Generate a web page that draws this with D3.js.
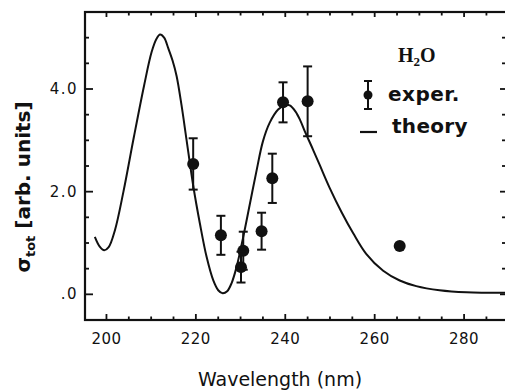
<!DOCTYPE html>
<html>
<head>
<meta charset="utf-8">
<script src="https://cdn.jsdelivr.net/npm/d3@7"></script>
<style>
  html, body { margin: 0; padding: 0; background: #fff; }
  svg { display: block; }
  text { fill: #111; }
</style>
</head>
<body>
<svg id="chart" width="505" height="392"></svg>
<script>
// Measured total cross section of H2O vs wavelength
const expWavelength = [219.4, 225.6, 230.6, 230.1, 234.7, 237.1, 239.5, 245.0, 265.6];
const expSigma      = [2.54, 1.15, 0.85, 0.53, 1.23, 2.26, 3.74, 3.76, 0.94];
const expError      = [0.50, 0.38, 0.37, 0.30, 0.36, 0.48, 0.39, 0.68, 0];

// Calculated curve
const theoryWavelength = [197.4, 198.5, 199.5, 200.5, 201.9, 203.8, 206.1, 208.4, 210.1, 211.2,
  212.0, 212.9, 213.8, 214.8, 215.7, 216.8, 217.9, 219.4, 220.9, 222.4, 223.9, 225.0, 226.0,
  227.0, 228.0, 229.1, 230.6, 232.1, 233.6, 235.0, 236.5, 238.4, 240.0, 241.0, 242.3, 243.4,
  244.4, 246.0, 247.7, 249.9, 252.6, 255.2, 258.1, 261.9, 265.6, 269.3, 274.5, 280.5, 289.6];
const theorySigma = [1.12, 0.93, 0.86, 0.92, 1.25, 2.00, 3.05, 4.06, 4.72, 4.98,
  5.06, 5.00, 4.80, 4.55, 4.25, 3.68, 3.02, 2.12, 1.38, 0.73, 0.27, 0.08, 0.02,
  0.06, 0.22, 0.53, 1.12, 1.77, 2.42, 2.98, 3.34, 3.60, 3.69, 3.68, 3.56, 3.38,
  3.17, 2.86, 2.52, 2.08, 1.60, 1.19, 0.79, 0.46, 0.27, 0.16, 0.08, 0.04, 0.03];

const xMajorTicks = [200, 220, 240, 260, 280];
const yMajorTicks = [0, 2, 4];
const yTickLabels = [".0", "2.0", "4.0"];

const svg = d3.select("#chart");
const plotLeft = 85, plotRight = 507, plotTop = 12, plotBottom = 320;

const x = d3.scaleLinear().domain([195.2, 289.6]).range([plotLeft, plotRight]);
const y = d3.scaleLinear().domain([-0.5, 5.5]).range([plotBottom, plotTop]);

const sansBold = "'DejaVu Sans', sans-serif";

// frame
svg.append("rect")
  .attr("x", plotLeft).attr("y", plotTop)
  .attr("width", plotRight - plotLeft).attr("height", plotBottom - plotTop)
  .attr("fill", "none").attr("stroke", "#111").attr("stroke-width", 2.2);

// inward ticks on all four sides
const xMinor = d3.range(200, 290, 5);
const yMinor = d3.range(0, 5.01, 0.5);
const tickG = svg.append("g").attr("stroke", "#111").attr("stroke-width", 1.8);
xMinor.forEach(v => {
  const major = xMajorTicks.includes(v);
  tickG.append("line").attr("x1", x(v)).attr("x2", x(v))
    .attr("y1", plotBottom).attr("y2", plotBottom - (major ? 6 : 3.5));
  tickG.append("line").attr("x1", x(v)).attr("x2", x(v))
    .attr("y1", plotTop).attr("y2", plotTop + (major ? 5 : 3.5));
});
yMinor.forEach(v => {
  const major = yMajorTicks.includes(v);
  tickG.append("line").attr("y1", y(v)).attr("y2", y(v))
    .attr("x1", plotLeft).attr("x2", plotLeft + (major ? 8 : 4));
  tickG.append("line").attr("y1", y(v)).attr("y2", y(v))
    .attr("x1", plotRight).attr("x2", plotRight - (major ? 7 : 5));
});

// tick labels
svg.append("g").selectAll("text").data(xMajorTicks).join("text")
  .attr("x", d => x(d)).attr("y", 344)
  .attr("text-anchor", "middle")
  .attr("font-family", sansBold).attr("font-size", 15).attr("letter-spacing", 0.5)
  .text(d => d);
svg.append("g").selectAll("text").data(yMajorTicks).join("text")
  .attr("x", 78).attr("y", d => y(d) + 5)
  .attr("text-anchor", "end")
  .attr("font-family", sansBold).attr("font-size", 15).attr("letter-spacing", 1.5)
  .text((d, i) => yTickLabels[i]);

// axis titles
svg.append("text")
  .attr("x", 280).attr("y", 386)
  .attr("text-anchor", "middle")
  .attr("font-family", sansBold).attr("font-size", 19)
  .text("Wavelength (nm)");

const yTitle = svg.append("text")
  .attr("transform", "translate(30,187) rotate(-90)")
  .attr("text-anchor", "middle")
  .attr("font-family", sansBold).attr("font-size", 20).attr("font-weight", "bold");
yTitle.append("tspan").text("σ");
yTitle.append("tspan").attr("font-size", 13).attr("dy", 5).text("tot");
yTitle.append("tspan").attr("dy", -5).text(" [arb. units]");

// theory curve
const line = d3.line()
  .x((d, i) => x(theoryWavelength[i]))
  .y(d => y(d))
  .curve(d3.curveCatmullRom.alpha(0.5));
svg.append("path")
  .datum(theorySigma)
  .attr("d", line)
  .attr("fill", "none").attr("stroke", "#111").attr("stroke-width", 2);

// experimental points with error bars
const pts = svg.append("g");
expWavelength.forEach((w, i) => {
  const cx = x(w), v = expSigma[i], e = expError[i];
  if (e > 0) {
    pts.append("line").attr("x1", cx).attr("x2", cx)
      .attr("y1", y(v - e)).attr("y2", y(v + e))
      .attr("stroke", "#111").attr("stroke-width", 2);
    [v - e, v + e].forEach(c => pts.append("line")
      .attr("x1", cx - 4.5).attr("x2", cx + 4.5)
      .attr("y1", y(c)).attr("y2", y(c))
      .attr("stroke", "#111").attr("stroke-width", 2));
  }
  pts.append("circle").attr("cx", cx).attr("cy", y(v)).attr("r", 6).attr("fill", "#111");
});

// legend
const lg = svg.append("g");
const h2o = lg.append("text")
  .attr("x", 398).attr("y", 62)
  .attr("font-family", "'Liberation Serif', serif").attr("font-size", 20).attr("font-weight", "bold");
h2o.append("tspan").text("H");
h2o.append("tspan").attr("font-size", 13).attr("dy", 4).text("2");
h2o.append("tspan").attr("dy", -4).text("O");

const lx = 368;
lg.append("line").attr("x1", lx).attr("x2", lx).attr("y1", 81).attr("y2", 109)
  .attr("stroke", "#111").attr("stroke-width", 2);
[81, 109].forEach(cy => lg.append("line").attr("x1", lx - 4).attr("x2", lx + 4)
  .attr("y1", cy).attr("y2", cy).attr("stroke", "#111").attr("stroke-width", 2));
lg.append("circle").attr("cx", lx).attr("cy", 95).attr("r", 4.5).attr("fill", "#111");
lg.append("text").attr("x", 388).attr("y", 101)
  .attr("font-family", sansBold).attr("font-size", 20).attr("font-weight", "bold")
  .attr("letter-spacing", 0.5)
  .text("exper.");
lg.append("line").attr("x1", 360).attr("x2", 377).attr("y1", 132).attr("y2", 132)
  .attr("stroke", "#111").attr("stroke-width", 2.2);
lg.append("text").attr("x", 392).attr("y", 133)
  .attr("font-family", sansBold).attr("font-size", 20).attr("font-weight", "bold")
  .attr("letter-spacing", 0.3)
  .text("theory");
</script>
</body>
</html>
